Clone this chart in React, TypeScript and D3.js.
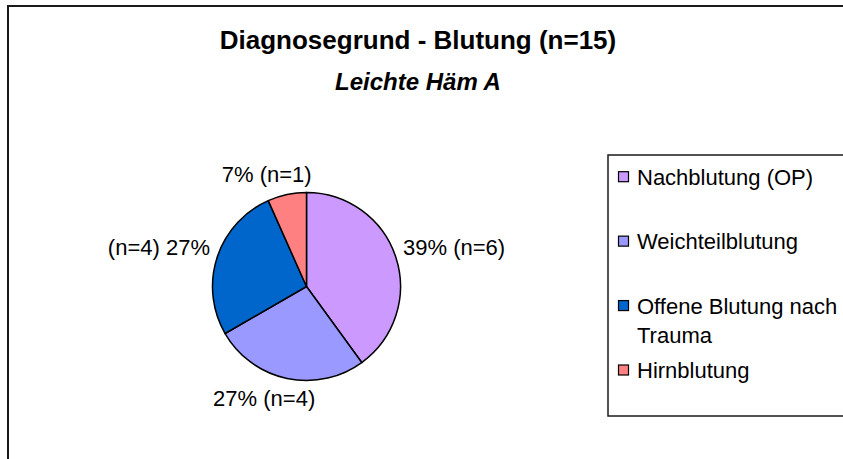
import * as d3 from "d3";
import { useEffect, useRef } from "react";

// Werte aus dem Diagramm
const categories = ["Nachblutung (OP)", "Weichteilblutung", "Offene Blutung nach Trauma", "Hirnblutung"];
const counts = [6, 4, 4, 1];
const percentLabels = ["39%", "27%", "27%", "7%"];
const legendLines = [["Nachblutung (OP)"], ["Weichteilblutung"], ["Offene Blutung nach", "Trauma"], ["Hirnblutung"]];
const colors = ["#CC99FF", "#9999FF", "#0066CC", "#FF8080"];

const title = "Diagnosegrund - Blutung (n=15)";
const subtitle = "Leichte Häm A";

const W = 843;
const H = 459;
const FONT = "Arial, 'Liberation Sans', sans-serif";

const App = () => {
  const ref = useRef<SVGSVGElement>(null);

  useEffect(() => {
    const svg = d3.select(ref.current);
    svg.selectAll("*").remove();

    // Rahmen des Diagramms (läuft rechts/unten aus dem Bild)
    svg.append("rect")
      .attr("x", 8).attr("y", 6)
      .attr("width", W + 50).attr("height", H + 50)
      .attr("fill", "#fff")
      .attr("stroke", "#1a1a1a")
      .attr("stroke-width", 2);

    // Titel
    svg.append("text")
      .attr("x", 418).attr("y", 49)
      .attr("text-anchor", "middle")
      .style("font-family", FONT).style("font-size", "26px").style("font-weight", "bold")
      .text(title);
    svg.append("text")
      .attr("x", 418).attr("y", 90)
      .attr("text-anchor", "middle")
      .style("font-family", FONT).style("font-size", "24px")
      .style("font-weight", "bold").style("font-style", "italic")
      .text(subtitle);

    // Kreisdiagramm
    const cx = 306.5, cy = 286.5, r = 94;
    const pie = d3.pie<number>().sort(null).value(d => d);
    const arcs = pie(counts);
    const arc = d3.arc<d3.PieArcDatum<number>>().innerRadius(0).outerRadius(r);

    const g = svg.append("g").attr("transform", `translate(${cx},${cy})`);
    g.selectAll("path")
      .data(arcs)
      .enter()
      .append("path")
      .attr("d", arc)
      .attr("fill", (d, i) => colors[i])
      .attr("stroke", "#000")
      .attr("stroke-width", 1.5)
      .attr("stroke-linejoin", "round");

    // Beschriftungen außen
    const clamp = (v: number) => Math.max(-1, Math.min(1, v));
    arcs.forEach((d, i) => {
      const a = (d.startAngle + d.endAngle) / 2;
      const ux = Math.sin(a), uy = -Math.cos(a);
      const px = (r + 7.5) * ux, py = (r + 7.5) * uy;
      const left = clamp(2 * ux) === -1;
      const txt = left
        ? `(n=${counts[i]}) ${percentLabels[i]}`
        : `${percentLabels[i]} (n=${counts[i]})`;
      const t = g.append("text")
        .attr("text-anchor", "middle")
        .attr("dominant-baseline", "central")
        .style("font-family", FONT).style("font-size", "22px")
        .text(txt);
      const bb = (t.node() as SVGTextElement).getBBox();
      const w = bb.width, h = bb.height;
      t.attr("x", px + (w / 2) * clamp(2 * ux))
        .attr("y", py + (h / 2) * clamp(2 * uy));
    });

    // Legende
    const lx = 608, ly = 155, lh = 261;
    svg.append("rect")
      .attr("x", lx).attr("y", ly)
      .attr("width", 300).attr("height", lh)
      .attr("fill", "#fff")
      .attr("stroke", "#1a1a1a")
      .attr("stroke-width", 1.5);

    const itemY = d3.scaleLinear().domain([0, categories.length - 1]).range([176.7, 370]);
    categories.forEach((c, i) => {
      const y = itemY(i);
      svg.append("rect")
        .attr("x", 618.5).attr("y", y - 5)
        .attr("width", 10).attr("height", 10)
        .attr("fill", colors[i])
        .attr("stroke", "#000")
        .attr("stroke-width", 1.2);
      const t = svg.append("text")
        .attr("x", 637).attr("y", y + 8)
        .style("font-family", FONT).style("font-size", "22px");
      legendLines[i].forEach((line, j) => {
        t.append("tspan")
          .attr("x", 637)
          .attr("dy", j === 0 ? 0 : 29)
          .text(line);
      });
    });
  }, []);

  return (
    <svg
      ref={ref}
      width={W}
      height={H}
      style={{ position: "absolute", left: 0, top: 0, display: "block", background: "#fff" }}
    />
  );
};

export default App;
